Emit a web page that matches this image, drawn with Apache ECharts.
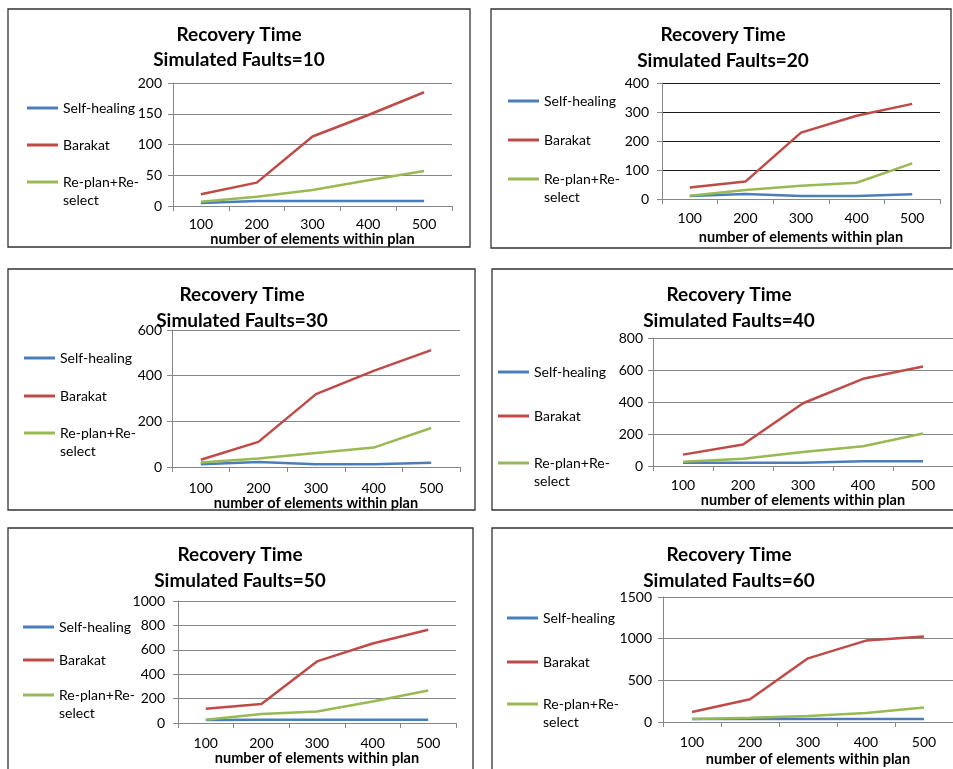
<!DOCTYPE html>
<html>
<head>
<meta charset="utf-8">
<script src="https://cdn.jsdelivr.net/npm/echarts@6/dist/echarts.min.js"></script>
<style>
html,body{margin:0;padding:0;background:#fff;}
#c{width:953px;height:769px;}
</style>
</head>
<body>
<div id="c"></div>
<script>
// ---- data ----
const categories = ['100', '200', '300', '400', '500'];
const seriesNames = ['Self-healing', 'Barakat', 'Re-plan+Re-select'];
const faults = [10, 20, 30, 40, 50, 60];
const yMax = [200, 400, 600, 800, 1000, 1500];
const yInterval = [50, 100, 200, 200, 200, 500];

const selfHealing10 = [5, 8, 8, 8, 8];
const barakat10 = [19, 38, 113, 148, 185];
const replan10 = [7, 15, 26, 42, 57];

const selfHealing20 = [10, 17, 10, 10, 16];
const barakat20 = [40, 60, 229, 287, 328];
const replan20 = [11, 31, 46, 56, 123];

const selfHealing30 = [12, 22, 12, 12, 19];
const barakat30 = [32, 110, 319, 421, 512];
const replan30 = [20, 37, 61, 85, 171];

const selfHealing40 = [21, 21, 21, 29, 29];
const barakat40 = [71, 134, 392, 545, 622];
const replan40 = [27, 46, 88, 124, 203];

const selfHealing50 = [25, 27, 27, 27, 27];
const barakat50 = [117, 155, 505, 652, 764];
const replan50 = [27, 73, 95, 177, 266];

const selfHealing60 = [36, 36, 36, 36, 36];
const barakat60 = [121, 273, 764, 977, 1025];
const replan60 = [36, 52, 72, 109, 173];

const panelData = [
  [selfHealing10, barakat10, replan10],
  [selfHealing20, barakat20, replan20],
  [selfHealing30, barakat30, replan30],
  [selfHealing40, barakat40, replan40],
  [selfHealing50, barakat50, replan50],
  [selfHealing60, barakat60, replan60]
];

// ---- layout (positions / styles) ----
const layout = [
  {box:[8,9,462,238],  grid:[173,83,279,123], tx:239, ty:[35,60], lx:27,  ly:[108,145,182], ym:11, xl:18, xn:29, split:'#868686'},
  {box:[491,9,460,239], grid:[662,83,278,116], tx:723, ty:[35,61], lx:508, ly:[101,140,179], ym:13, xl:19, xn:38, split:'#1a1a1a'},
  {box:[8,269,467,241], grid:[172,330,288,137], tx:242, ty:[295,321], lx:24, ly:[358,396,433], ym:10, xl:21, xn:32, split:'#868686'},
  {box:[492,269,480,241], grid:[653,338,307,128], tx:729, ty:[295,321], lx:498, ly:[372,416,463], ym:10, xl:19, xn:34, split:'#868686'},
  {box:[8,528,465,260], grid:[178,601,278,122], tx:240, ty:[555,581], lx:23, ly:[627,660,695], ym:13, xl:20, xn:35, split:'#868686'},
  {box:[492,528,480,260], grid:[663,597,295,125], tx:729, ty:[555,581], lx:507, ly:[618,662,704], ym:11, xl:20, xn:37, split:'#868686'}
];
const colors = ['#4A7EBB', '#BE4B48', '#98B954'];
const FONT = 'Lato, "Open Sans", sans-serif';
const LH = 18;

const grids = [], xAxes = [], yAxes = [], series = [], legends = [], graphics = [];

layout.forEach((p, i) => {
  graphics.push({type:'rect', shape:{x:p.box[0], y:p.box[1], width:p.box[2], height:p.box[3]},
    style:{fill:'none', stroke:'#333', lineWidth:1.3}, z:100});
  graphics.push({type:'text', x:p.tx, y:p.ty[0], style:{text:'Recovery Time', fill:'#000',
    font:'bold 19px ' + FONT, textAlign:'center', textVerticalAlign:'middle'}, z:100});
  graphics.push({type:'text', x:p.tx, y:p.ty[1], style:{text:'Simulated Faults=' + faults[i], fill:'#000',
    font:'bold 19px ' + FONT, textAlign:'center', textVerticalAlign:'middle'}, z:100});

  grids.push({left:p.grid[0], top:p.grid[1], width:p.grid[2], height:p.grid[3], containLabel:false});
  xAxes.push({
    type:'category', gridIndex:i, data:categories, boundaryGap:true,
    axisLine:{show:true, lineStyle:{color:'#868686', width:1}},
    axisTick:{show:true, length:5, lineStyle:{color:'#868686'}},
    axisLabel:{color:'#000', fontFamily:FONT, fontSize:14, margin:p.xl, verticalAlign:'middle'},
    splitLine:{show:false},
    name:'number of elements within plan', nameLocation:'middle', nameGap:p.xn,
    nameTextStyle:{color:'#000', fontFamily:FONT, fontSize:14.5, fontWeight:'bold', verticalAlign:'middle'}
  });
  yAxes.push({
    type:'value', gridIndex:i, min:0, max:yMax[i], interval:yInterval[i],
    axisLine:{show:true, lineStyle:{color:'#868686', width:1}},
    axisTick:{show:true, length:5, lineStyle:{color:'#868686'}},
    axisLabel:{color:'#000', fontFamily:FONT, fontSize:14, margin:p.ym, formatter: v => String(v)},
    splitLine:{show:true, lineStyle:{color:p.split, width:1}}
  });
  seriesNames.forEach((name, k) => {
    series.push({
      type:'line', name:name, xAxisIndex:i, yAxisIndex:i, data:panelData[i][k],
      showSymbol:false, symbol:'none', lineStyle:{color:colors[k], width:2.5}, itemStyle:{color:colors[k]},
      silent:true, animation:false, z:2 + k
    });
    const multi = k === 2;
    legends.push({
      data:[name], orient:'vertical', left:p.lx, top: multi ? p.ly[k] - 1.5 * LH : p.ly[k] - LH / 2,
      padding:0, itemWidth:31, itemHeight:3, icon:'rect', selectedMode:false,
      textStyle:{color:'#000', fontFamily:FONT, fontSize:14, lineHeight:LH},
      formatter: multi ? (n => '\n' + n.replace('Re-plan+Re-', 'Re-plan+Re-\n')) : (n => n)
    });
  });
});

const chart = echarts.init(document.getElementById('c'), null, {renderer:'canvas'});
chart.setOption({
  backgroundColor:'#fff',
  animation:false,
  color:colors,
  grid:grids, xAxis:xAxes, yAxis:yAxes, series:series, legend:legends,
  graphic:{elements:graphics}
});
</script>
</body>
</html>
